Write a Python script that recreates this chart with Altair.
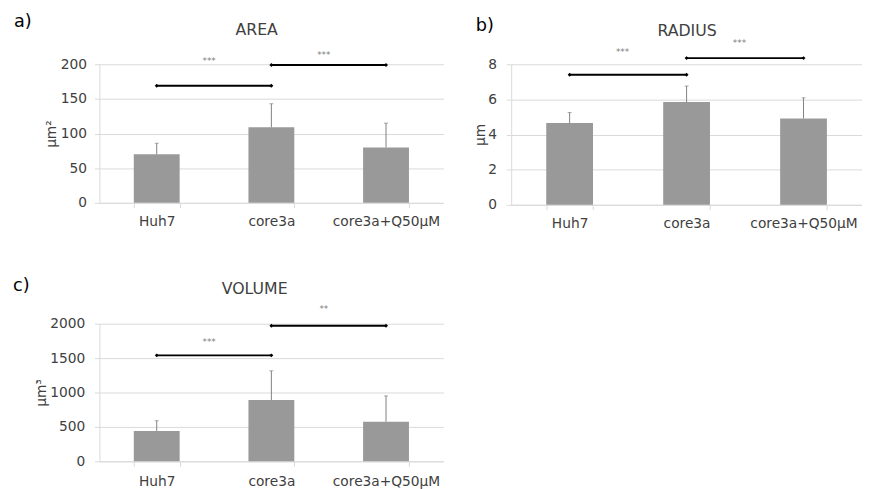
import altair as alt
import pandas as pd

categories = ["Huh7", "core3a", "core3a+Q50µM"]

area_mean = [70, 109, 80]
area_upper = [86, 143, 115]
radius_mean = [4.65, 5.85, 4.92]
radius_upper = [5.25, 6.76, 6.09]
volume_mean = [440, 890, 575]
volume_upper = [590, 1315, 950]

sig_from = ["Huh7", "core3a"]
sig_to = ["core3a", "core3a+Q50µM"]

area_sig_y = [169, 199]
area_sig_label = ["***", "***"]
area_sig_label_y = [205, 214]

radius_sig_y = [7.4, 8.35]
radius_sig_label = ["***", "***"]
radius_sig_label_y = [8.69, 9.18]

volume_sig_y = [1540, 1970]
volume_sig_label = ["***", "**"]
volume_sig_label_y = [1730, 2215]

FONT = "DejaVu Sans"
GRID = "#d9d9d9"
TXT = "#404040"
BAR = "#999999"
ERR = "#808080"


def panel(letter, title, unit, mean, upper, sig_y, sig_label, sig_label_y,
          ymax, ystep, w, h, letter_xy, title_xy, unit_x, xlab_pad, ylab_pad):
    bars = pd.DataFrame({"cat": categories, "mean": mean, "upper": upper})
    sig = pd.DataFrame({"from": sig_from, "to": sig_to, "y": sig_y,
                        "label": sig_label, "ly": sig_label_y})
    ends = pd.DataFrame({"cat": sig_from + sig_to, "y": sig_y + sig_y})

    xscale = alt.Scale(domain=categories, paddingInner=0.6, paddingOuter=0.3)
    yscale = alt.Scale(domain=[0, ymax], nice=False)
    xaxis = alt.Axis(title=None, labelAngle=0, tickBand="extent", ticks=True,
                     tickSize=5, tickColor=GRID, domainColor=GRID, grid=False,
                     labelPadding=xlab_pad, labelFont=FONT, labelFontSize=14,
                     labelColor=TXT)
    yaxis = alt.Axis(values=list(range(0, ymax + 1, ystep)), format="d",
                     title=unit, titleX=unit_x, titleY=h / 2, titleAngle=270,
                     titleAlign="center", titleBaseline="middle",
                     titleFont=FONT, titleFontSize=14, titleFontWeight="normal",
                     titleColor=TXT, grid=True, gridColor=GRID, domain=True,
                     domainColor=GRID, ticks=True, tickSize=5, tickColor=GRID,
                     labelPadding=ylab_pad, labelFont=FONT, labelFontSize=14,
                     labelColor=TXT, labelOverlap=False)

    def X(field, **kw):
        return alt.X(field, scale=xscale, axis=xaxis, sort=categories, **kw)

    def Y(field):
        return alt.Y(field, scale=yscale, axis=yaxis)

    bar = alt.Chart(bars).mark_bar(color=BAR).encode(
        x=X("cat:N"), y=Y("mean:Q"))
    err = alt.Chart(bars).mark_rule(color=ERR, strokeWidth=1).encode(
        x=X("cat:N"), y=Y("mean:Q"), y2="upper:Q")
    cap = alt.Chart(bars).mark_tick(color=ERR, size=4, thickness=1).encode(
        x=X("cat:N"), y=Y("upper:Q"))
    line = alt.Chart(sig).mark_rule(color="black", strokeWidth=2).encode(
        x=X("from:N"), x2="to:N", y=Y("y:Q"))
    dots = alt.Chart(ends).mark_point(shape="diamond", filled=True, size=16,
                                      color="black", opacity=1).encode(
        x=X("cat:N"), y=Y("y:Q"))
    stars = alt.Chart(sig).mark_text(fontSize=9, color="#808080", font=FONT,
                                     dx=30, baseline="middle").encode(
        x=X("from:N", bandPosition=1), y=Y("ly:Q"), text="label:N")
    lt = alt.Chart(pd.DataFrame({"t": [letter]})).mark_text(
        fontSize=18, font=FONT, color="black", align="left", baseline="middle"
    ).encode(x=alt.value(letter_xy[0]), y=alt.value(letter_xy[1]), text="t:N")
    tt = alt.Chart(pd.DataFrame({"t": [title]})).mark_text(
        fontSize=16, font=FONT, color=TXT, align="center", baseline="middle"
    ).encode(x=alt.value(title_xy[0]), y=alt.value(title_xy[1]), text="t:N")

    return alt.layer(bar, err, cap, line, dots, stars, lt, tt).properties(
        width=w, height=h)


a = panel("a)", "AREA", "µm²", area_mean, area_upper, area_sig_y,
          area_sig_label, area_sig_label_y, 200, 50, 350, 141,
          (-87, -43), (160, -35), -49, 7, 8)
b = panel("b)", "RADIUS", "µm", radius_mean, radius_upper, radius_sig_y,
          radius_sig_label, radius_sig_label_y, 8, 2, 357, 143,
          (-36, -39), (179, -34), -31, 7, 10)
c = panel("c)", "VOLUME", "µm³", volume_mean, volume_upper, volume_sig_y,
          volume_sig_label, volume_sig_label_y, 2000, 500, 350, 140,
          (-88, -38), (158, -35), -59, 9, 10)

chart = alt.concat(a, b, c, columns=2, spacing={"row": 48, "column": 31}).properties(
    align="each", padding={"left": 5, "top": 1, "right": 0, "bottom": 0}
).configure_view(stroke=None)

chart.save("out.html", embed_options={"renderer": "svg", "actions": False})
